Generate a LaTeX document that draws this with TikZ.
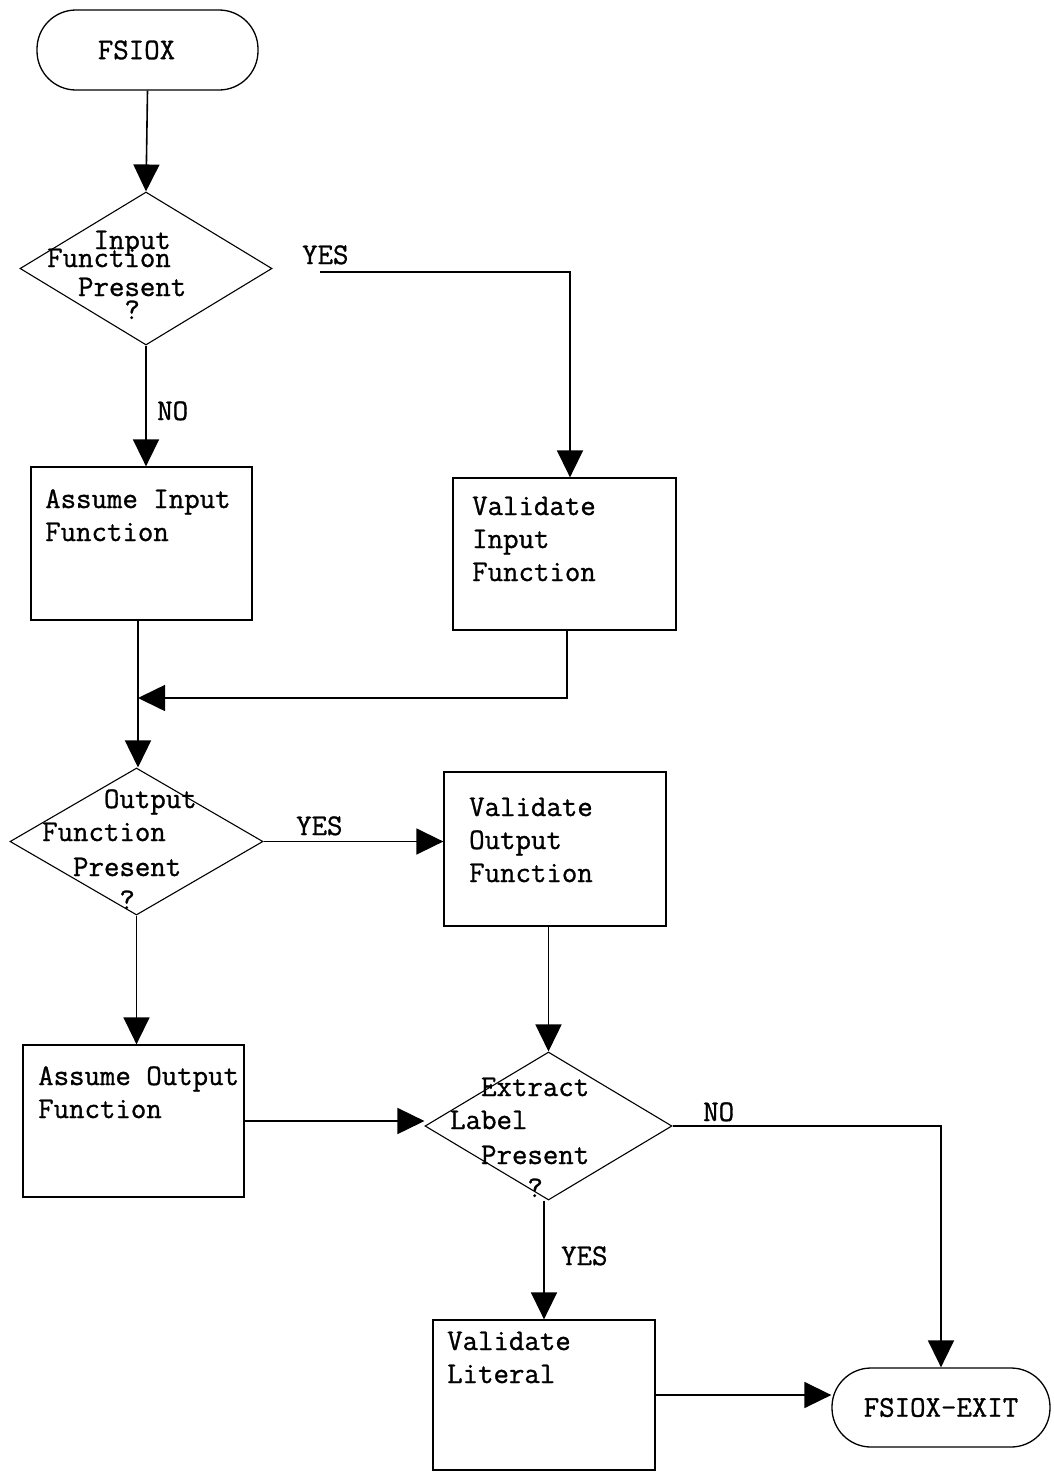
\documentclass[tikz,border=0pt]{standalone}
\usepackage{fontspec}
\usetikzlibrary{shapes.geometric,arrows.meta}
\newfontfamily\flowfont{Latin Modern Mono}[FakeBold=1]
\begin{document}
\begin{tikzpicture}[x=1pt,y=-1pt,
  every node/.style={font=\flowfont\fontsize{30pt}{33pt}\selectfont},
  box/.style={draw, line width=1.3pt, rectangle, inner sep=0pt},
  term/.style={draw, line width=1.3pt, rectangle, rounded corners=39pt, inner sep=0pt},
  dec/.style={draw, line width=1.1pt, diamond, inner sep=0pt},
  txt/.style={anchor=base west, inner sep=0pt, align=left},
  lab/.style={anchor=base west, inner sep=0pt},
  flow/.style={line width=1.6pt, -{Triangle[length=27pt,width=26pt]}},
]
\useasboundingbox[fill=white] (0,0) rectangle (1053,1473);

% shapes
\node[term, minimum width=221pt, minimum height=80pt] (start) at (147.5,50) {FSIOX\hspace*{22pt}};
\node[dec, minimum width=252pt, minimum height=153pt] (d1) at (146,268.5) {};
\node[box, minimum width=221pt, minimum height=153pt] (ai) at (141.5,543.5) {};
\node[box, minimum width=223pt, minimum height=152pt] (vi) at (564.5,554) {};
\node[dec, minimum width=253pt, minimum height=147pt] (d2) at (136.5,841.5) {};
\node[box, minimum width=222pt, minimum height=154pt] (vo) at (555,849) {};
\node[box, minimum width=221pt, minimum height=152pt] (ao) at (133.5,1121) {};
\node[dec, minimum width=247pt, minimum height=148pt] (d3) at (548.5,1126) {};
\node[box, minimum width=222pt, minimum height=150pt] (vl) at (544,1395) {};
\node[term, minimum width=218pt, minimum height=79pt] (exit) at (941,1407.5) {FSIOX-EXIT};

% texts (base anchor = baseline of last line)
\node[txt] (d1t) at (47,319) {\hphantom{XXX}Input\\[-15pt]Function\\[-4pt]\hphantom{XX}Present\\[-10pt]\hphantom{XXXXX}?};
\node[txt] (ait) at (45,541) {Assume Input\\Function};
\node[txt] (vit) at (472,581) {Validate\\Input\\Function};
\node[txt] (d2t) at (42,909) {\hphantom{XXXX}Output\\Function\\[2pt]\hphantom{XX}Present\\\hphantom{XXXXX}?};
\node[txt] (vot) at (469,882) {Validate\\Output\\Function};
\node[txt] (aot) at (38,1118) {Assume Output\\Function};
\node[txt] (d3t) at (450,1197) {\hphantom{XX}Extract\\Label\\[2pt]\hphantom{XX}Present\\\hphantom{XXXXX}?};
\node[txt] (vlt) at (447,1383) {Validate\\Literal};

% labels
\node[lab] (yes1) at (302,264) {YES};
\node[lab] (no1) at (157,420) {NO};
\node[lab] (yes2) at (296,835) {YES};
\node[lab] (no3) at (703,1121) {NO};
\node[lab] (yes3) at (561,1265) {YES};

% connectors
\coordinate (ys) at (320,272);
\coordinate (m) at (138,698);
\draw[flow] (start.south) -- (d1.north);
\draw[flow] (ys) -| ([xshift=5.5pt]vi.north);
\draw[flow] (d1.south) -- (d1.south |- ai.north);
\draw[flow] ([xshift=2.5pt]vi.south) |- (m);
\draw[flow] (ai.south -| m) -- (d2.north -| m);
\draw[flow] (d2.east) -- (d2.east -| vo.west);
\draw[flow] (d2.south) -- (d2.south |- ao.north);
\draw[flow] (d3.north |- vo.south) -- (d3.north);
\draw[flow] (ao.east) -- (ao.east -| d3.west);
\draw[flow] (d3.east) -| (exit.north);
\draw[flow] (vl.north |- d3.south) -- (vl.north);
\draw[flow] (vl.east) -- (vl.east -| exit.west);
\end{tikzpicture}
\end{document}
